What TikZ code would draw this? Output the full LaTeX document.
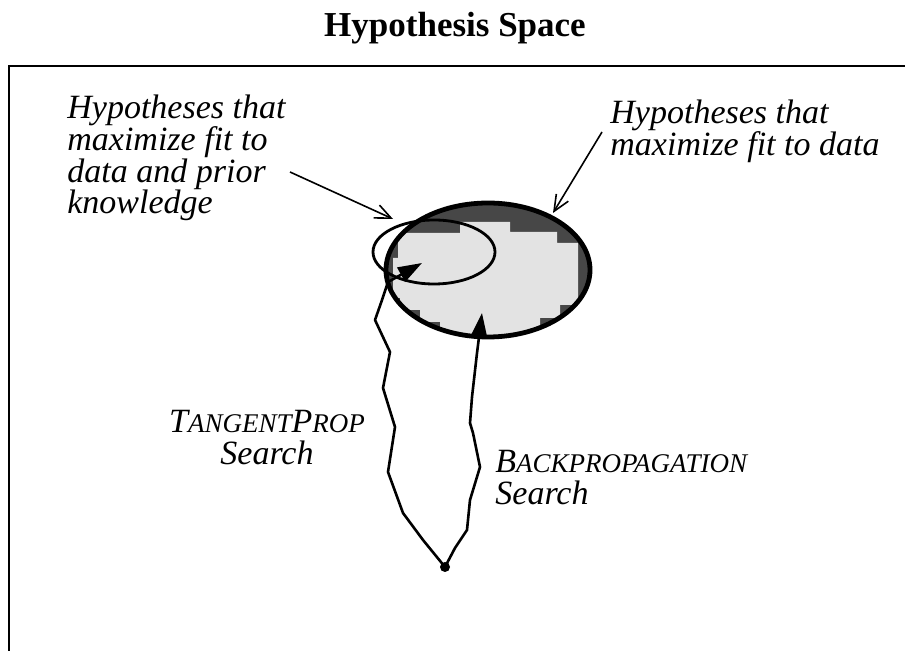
\documentclass[tikz,border=0pt]{standalone}
\usepackage{fontspec}
\setmainfont{Liberation Serif}
\usetikzlibrary{arrows.meta}

\tikzset{
  note/.style={font=\fontsize{17}{15.8}\selectfont\itshape, inner sep=0pt},
  searchpath/.style={line width=1.3pt, line join=round, -{Triangle[length=12pt,width=8pt]}},
  pointer/.style={line width=0.8pt, -{Straight Barb[length=8pt,width=7pt]}},
}
\newcommand{\smallcap}[1]{{\fontsize{13.5}{15}\selectfont #1}}

\begin{document}
\begin{tikzpicture}[x=0.5pt,y=-0.5pt]
  \useasboundingbox (0,0) rectangle (905,651);

  % Title and frame
  \node[font=\fontsize{17.5}{20}\selectfont\bfseries, anchor=base] (title) at (455,37) {Hypothesis Space};
  \draw[line width=1pt] (9,651) -- (9,66) -- (905,66);

  % Region that fits the data
  \fill[black!72] (488,270) ellipse [x radius=102, y radius=67];
  \begin{scope}
    \clip (488,270) ellipse [x radius=102, y radius=67];
    \fill[gray!22] (393,258) -- (398,258) -- (398,233) -- (460,233) -- (460,222)
      -- (510,222) -- (510,232) -- (557,232) -- (557,243) -- (578,243)
      -- (578,305) -- (560,305) -- (560,318) -- (540,318) -- (540,345)
      -- (440,345) -- (440,322) -- (420,322) -- (420,310) -- (400,310)
      -- (400,298) -- (393,298) -- cycle;
  \end{scope}
  \draw[line width=2.4pt] (488,270) ellipse [x radius=102, y radius=67];

  % Region that also fits prior knowledge
  \draw[line width=1.4pt] (434,252) ellipse [x radius=61, y radius=32];

  % Labels
  \node[note, anchor=north west, align=left] (priorlabel) at (67,95)
    {Hypotheses that\\maximize fit to\\data and prior\\knowledge};
  \node[note, anchor=north west, align=left] (datalabel) at (610,100)
    {Hypotheses that\\maximize fit to data};
  \node[note, anchor=north, align=center] (tplabel) at (267,410)
    {T\smallcap{ANGENT}P\smallcap{ROP}\\Search};
  \node[note, anchor=north west, align=left] (bplabel) at (495,450)
    {B\smallcap{ACKPROPAGATION}\\Search};

  % Pointers to the regions
  \coordinate (priortail) at (290,172);
  \coordinate (priortip) at (393,219);
  \coordinate (datatail) at (602,132);
  \coordinate (datatip) at (553,213);
  \draw[pointer] (priortail) -- (priortip);
  \draw[pointer] (datatail) -- (datatip);

  % Start point and the two searches
  \node[circle, fill, inner sep=0pt, minimum size=5pt] (start) at (445,567) {};
  \coordinate (bpend) at (482,313);
  \coordinate (tpend) at (422,263);
  \draw[searchpath] (start.center) -- (455,548) -- (467,530) -- (470,500) -- (480,467)
    -- (473,433) -- (470,423) -- (472,397) -- (477,353) -- (bpend);
  \draw[searchpath] (start.center) -- (423,540) -- (403,513) -- (388,472) -- (395,427)
    -- (383,388) -- (390,352) -- (375,320) -- (382,300) -- (388,282) -- (tpend);
\end{tikzpicture}
\end{document}
